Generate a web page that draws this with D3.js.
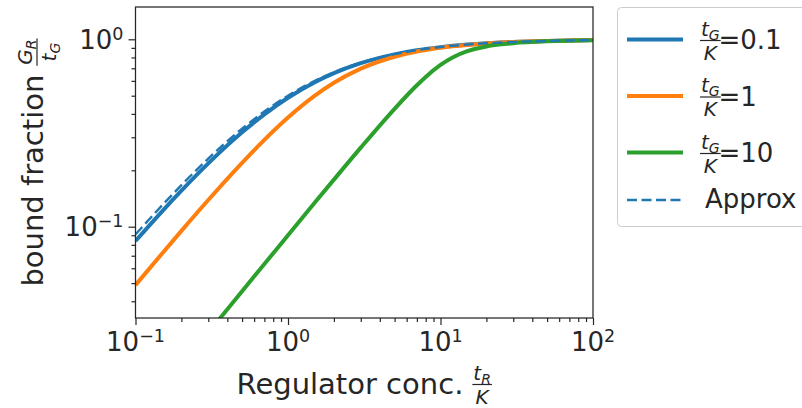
<!DOCTYPE html>
<html>
<head>
<meta charset="utf-8">
<script src="https://cdn.jsdelivr.net/npm/d3@7"></script>
<style>
  body { margin: 0; background: #fff; }
  svg { display: block; font-family: "DejaVu Sans", sans-serif; }
</style>
</head>
<body>
<svg id="chart" width="802" height="408"></svg>
<script>
// regulator concentration tR/K (x) and bound fraction GR/tG
var tR       = [0.1, 0.15, 0.2, 0.3, 0.5, 0.7, 1, 1.5, 2, 3, 5, 7, 8, 10, 12, 15, 20, 25, 30, 50, 100];
var boundK01 = [0.0839, 0.1212, 0.1557, 0.2177, 0.3189, 0.3977, 0.4875, 0.5903, 0.6592, 0.7453, 0.8310, 0.8736, 0.8878, 0.9083, 0.9226, 0.9372, 0.9522, 0.9614, 0.9677, 0.9803, 0.9901];
var boundK1  = [0.0488, 0.0722, 0.0950, 0.1388, 0.2192, 0.2905, 0.3820, 0.5000, 0.5858, 0.6972, 0.8074, 0.8599, 0.8769, 0.9010, 0.9172, 0.9336, 0.9501, 0.9601, 0.9667, 0.9800, 0.9900];
var boundK10 = [0.0091, 0.0136, 0.0182, 0.0272, 0.0453, 0.0632, 0.0901, 0.1345, 0.1783, 0.2641, 0.4258, 0.5683, 0.6298, 0.7298, 0.8000, 0.8641, 0.9156, 0.9398, 0.9534, 0.9758, 0.9890];
var approx   = [0.0909, 0.1304, 0.1667, 0.2308, 0.3333, 0.4118, 0.5000, 0.6000, 0.6667, 0.7500, 0.8333, 0.8750, 0.8889, 0.9091, 0.9231, 0.9375, 0.9524, 0.9615, 0.9677, 0.9804, 0.9901];

var seriesLabels = ["0.1", "1", "10"];
var seriesColors = ["#1f77b4", "#ff7f0e", "#2ca02c"];

var xTicks = [0.1, 1, 10, 100];
var xTickExp = ["\u22121", "0", "1", "2"];
var yTicks = [0.1, 1];
var yTickExp = ["\u22121", "0"];
var xLim = [0.1, 100];
var yLim = [0.03257, 1.487];

var ink = "#262626";
var svg = d3.select("#chart");
var pLeft = 135.5, pRight = 593, pTop = 7, pBottom = 318;

var x = d3.scaleLog().domain(xLim).range([pLeft, pRight]);
var y = d3.scaleLog().domain(yLim).range([pBottom, pTop]);

function minorTicks(lo, hi) {
  var out = [];
  for (var e = lo; e < hi; e++) {
    for (var k = 2; k < 10; k++) out.push(k * Math.pow(10, e));
  }
  return out;
}

// ticks
function styleAxis(g) {
  g.select(".domain").remove();
  g.selectAll("line").attr("stroke", ink).attr("stroke-width", 1.2);
}
svg.append("g").attr("transform", "translate(0," + pBottom + ")")
  .call(d3.axisBottom(x).tickValues(xTicks).tickSize(7).tickFormat("")).call(styleAxis);
svg.append("g").attr("transform", "translate(0," + pBottom + ")")
  .call(d3.axisBottom(x).tickValues(minorTicks(-1, 2)).tickSize(4).tickFormat("")).call(styleAxis);
svg.append("g").attr("transform", "translate(" + pLeft + ",0)")
  .call(d3.axisLeft(y).tickValues(yTicks).tickSize(7).tickFormat("")).call(styleAxis);
svg.append("g").attr("transform", "translate(" + pLeft + ",0)")
  .call(d3.axisLeft(y).tickValues(minorTicks(-2, 0).filter(function (v) { return v >= yLim[0]; })).tickSize(4).tickFormat("")).call(styleAxis);

// tick labels
xTicks.forEach(function (v, i) {
  var t = svg.append("text").attr("x", x(v)).attr("y", pBottom + 33)
    .attr("text-anchor", "middle").attr("font-size", 26).attr("fill", ink);
  t.append("tspan").text("10");
  t.append("tspan").attr("dy", -9).attr("font-size", 17.5).text(xTickExp[i]);
});
yTicks.forEach(function (v, i) {
  var t = svg.append("text").attr("x", 123.5).attr("y", y(v) + 9.5)
    .attr("text-anchor", "end").attr("font-size", 26).attr("fill", ink);
  t.append("tspan").text("10");
  t.append("tspan").attr("dy", -9).attr("font-size", 17.5).text(yTickExp[i]);
});

// curves
svg.append("clipPath").attr("id", "plotclip").append("rect")
  .attr("x", pLeft).attr("y", pTop).attr("width", pRight - pLeft).attr("height", pBottom - pTop);

var line = d3.line()
  .x(function (d) { return x(d[0]); })
  .y(function (d) { return y(d[1]); })
  .curve(d3.curveMonotoneX);

var plot = svg.append("g").attr("clip-path", "url(#plotclip)");
[boundK01, boundK1, boundK10].forEach(function (vals, i) {
  plot.append("path")
    .datum(d3.zip(tR, vals))
    .attr("d", line)
    .attr("fill", "none")
    .attr("stroke", seriesColors[i])
    .attr("stroke-width", 4);
});
plot.append("path")
  .datum(d3.zip(tR, approx))
  .attr("d", line)
  .attr("fill", "none")
  .attr("stroke", seriesColors[0])
  .attr("stroke-width", 2.4)
  .attr("stroke-dasharray", "10,4.5");

svg.append("rect")
  .attr("x", pLeft).attr("y", pTop).attr("width", pRight - pLeft).attr("height", pBottom - pTop)
  .attr("fill", "none").attr("stroke", ink).attr("stroke-width", 1.25);

// fraction helper: left edge at lx, bar at barY; returns right edge
function addFrac(g, lx, barY, num, den, size) {
  function part(t, p) {
    t.append("tspan").attr("font-style", "italic").text(p[0]);
    if (p[1]) t.append("tspan").attr("font-style", "italic")
      .attr("font-size", size * 0.7).attr("dy", size * 0.2).text(p[1]);
  }
  var n = g.append("text").attr("y", barY - 5).attr("text-anchor", "middle")
    .attr("font-size", size).attr("fill", ink);
  part(n, num);
  var d = g.append("text").attr("y", barY + 4.5 + size * 0.73).attr("text-anchor", "middle")
    .attr("font-size", size).attr("fill", ink);
  part(d, den);
  var w = Math.max(n.node().getComputedTextLength(), d.node().getComputedTextLength()) + 2;
  var cx = lx + w / 2;
  n.attr("x", cx);
  d.attr("x", cx);
  g.append("line").attr("x1", lx).attr("x2", lx + w).attr("y1", barY).attr("y2", barY)
    .attr("stroke", ink).attr("stroke-width", 1.2);
  return lx + w;
}

// x label
var xl = svg.append("g");
var xlText = xl.append("text").attr("x", 0).attr("y", 393.5)
  .attr("font-size", 29).attr("fill", ink).text("Regulator conc.");
var xlEnd = addFrac(xl, xlText.node().getComputedTextLength() + 9, 384.5, ["t", "R"], ["K", ""], 20);
xl.attr("transform", "translate(" + ((pLeft + pRight) / 2 - xlEnd / 2) + ",0)");

// y label
var yl = svg.append("g");
var ylText = yl.append("text").attr("x", 0).attr("y", 0)
  .attr("font-size", 29).attr("fill", ink).text("bound fraction");
var ylEnd = addFrac(yl, ylText.node().getComputedTextLength() + 9, -6, ["G", "R"], ["t", "G"], 20);
yl.attr("transform", "translate(43," + ((pTop + pBottom) / 2 + ylEnd / 2) + ") rotate(-90)");

// legend
var lg = svg.append("g");
lg.append("rect").attr("x", 617.5).attr("y", 7.5).attr("width", 200).attr("height", 219)
  .attr("rx", 4).attr("fill", "#fff").attr("stroke", "#cccccc").attr("stroke-width", 1);
var entryY = [39.5, 96, 152.5];
seriesLabels.forEach(function (lab, i) {
  var yy = entryY[i];
  lg.append("line").attr("x1", 627).attr("x2", 683).attr("y1", yy).attr("y2", yy)
    .attr("stroke", seriesColors[i]).attr("stroke-width", 4);
  addFrac(lg, 700, yy + 1, ["t", "G"], ["K", ""], 20);
  lg.append("text").attr("x", 718.5).attr("y", yy + 9.5).attr("font-size", 26)
    .attr("fill", ink).text("=" + lab);
});
lg.append("line").attr("x1", 627).attr("x2", 683).attr("y1", 200).attr("y2", 200)
  .attr("stroke", seriesColors[0]).attr("stroke-width", 2.4).attr("stroke-dasharray", "10,4.5");
lg.append("text").attr("x", 705).attr("y", 208).attr("font-size", 26)
  .attr("fill", ink).text("Approx");
</script>
</body>
</html>
